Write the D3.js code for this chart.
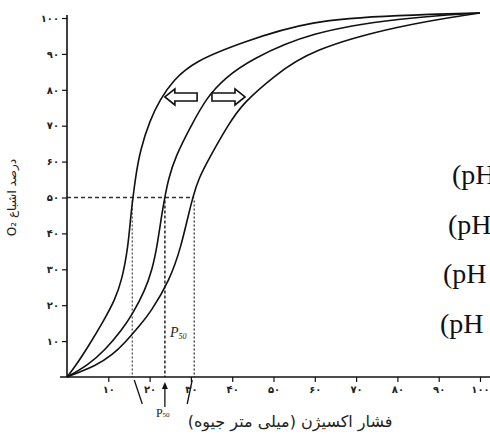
<!DOCTYPE html>
<html>
<head>
<meta charset="utf-8">
<script src="https://cdn.jsdelivr.net/npm/d3@7"></script>
<style>
  body { margin: 0; background: #fff; }
  svg { display: block; }
</style>
</head>
<body>
<div id="chart"></div>
<script>
const width = 490;
const height = 443;

// axis ticks
const po2Ticks = [10, 20, 30, 40, 50, 60, 70, 80, 90, 100];
const satTicks = [10, 20, 30, 40, 50, 60, 70, 80, 90, 100];

// three dissociation curves (PO2 mmHg -> % saturation)
const leftPO2 = [0, 1.9, 5.1, 9, 11.6, 13.3, 14.8, 15.5, 16, 16.5, 17.7, 20.1, 22.5, 25.7, 31, 41.9, 58.8, 80.6, 100];
const leftSat = [0, 2.8, 8.4, 15.9, 21.5, 27, 36.2, 45.7, 50.1, 54.9, 63.2, 71.6, 77.2, 82.7, 88, 93, 99.4, 100.8, 101.4];
const midPO2 = [0, 5.1, 9.2, 13.3, 16, 18.9, 20.6, 21.8, 23, 23.7, 24.5, 26.2, 30, 33.9, 38.3, 44.3, 58.8, 80.6, 100];
const midSat = [0, 3.3, 7.5, 13.1, 17.8, 24.2, 29.8, 36.2, 45.7, 50.1, 54.9, 61.3, 69.9, 78, 83.3, 88.3, 96.1, 100, 101.4];
const rightPO2 = [0, 7.3, 10.9, 14, 17.7, 20.1, 24.9, 27.6, 29.5, 30.5, 31.7, 34.6, 39, 42.6, 49.9, 58.8, 80.6, 100];
const rightSat = [0, 3.3, 6.1, 9.5, 14.5, 17.8, 27, 36.2, 45.7, 50.1, 54.9, 61.3, 70.2, 76.3, 83.6, 91.1, 98, 101.4];

// P50 of each curve
const p50Values = [15.8, 23.7, 30.8];
const halfSat = 50;

// shift arrows [from, to] in mmHg, at a saturation level
const arrowLeft = [23.7, 31.5];
const arrowRight = [35.1, 43.1];
const arrowSat = 78;

// pH labels at the right edge (cut off in the source)
const phLabels = ["(pH", "(pH", "(pH", "(pH"];

const xTitle = "فشار اکسیژن (میلی متر جیوه)";
const yTitle = "درصد اشباع O₂";

const fa = n => String(n).replace(/\d/g, d => "۰۱۲۳۴۵۶۷۸۹"[d]);

const x = d3.scaleLinear().domain([0, 100]).range([67, 480]);
const y = d3.scaleLinear().domain([0, 100]).range([377, 18]);

const svg = d3.select("#chart").append("svg")
  .attr("width", width)
  .attr("height", height)
  .style("background", "#fff");

// dashed guides for P50
svg.append("line")
  .attr("x1", x(0)).attr("x2", x(p50Values[2]))
  .attr("y1", y(halfSat)).attr("y2", y(halfSat))
  .attr("stroke", "#333").attr("stroke-width", 1.3)
  .attr("stroke-dasharray", "4,3");

const vDash = ["2,2", "3,2", "2,2"];
const vWidth = [1.1, 1.6, 1.3];
svg.selectAll(".vguide")
  .data(p50Values)
  .enter()
  .append("line")
  .attr("class", "vguide")
  .attr("x1", d => x(d)).attr("x2", d => x(d))
  .attr("y1", y(halfSat) + 3).attr("y2", y(0))
  .attr("stroke", "#333")
  .attr("stroke-width", (d, i) => vWidth[i])
  .attr("stroke-dasharray", (d, i) => vDash[i]);

// curves
const line = d3.line()
  .x(d => x(d[0]))
  .y(d => y(d[1]))
  .curve(d3.curveBasis);

const curves = [
  d3.zip(leftPO2, leftSat),
  d3.zip(midPO2, midSat),
  d3.zip(rightPO2, rightSat)
];
svg.selectAll(".curve")
  .data(curves)
  .enter()
  .append("path")
  .attr("class", "curve")
  .attr("d", line)
  .attr("fill", "none")
  .attr("stroke", "#111")
  .attr("stroke-width", 1.6);

// axes
svg.append("line")
  .attr("x1", x(0)).attr("x2", x(0))
  .attr("y1", y(100) - 3).attr("y2", y(0))
  .attr("stroke", "#111").attr("stroke-width", 1.6);
svg.append("line")
  .attr("x1", x(0) - 7).attr("x2", width)
  .attr("y1", y(0)).attr("y2", y(0))
  .attr("stroke", "#111").attr("stroke-width", 1.6);

const yAxis = svg.append("g")
  .attr("transform", "translate(" + x(0) + ",0)")
  .call(d3.axisLeft(y).tickValues(satTicks).tickFormat(fa).tickSize(5).tickPadding(3));
const xAxis = svg.append("g")
  .attr("transform", "translate(0," + y(0) + ")")
  .call(d3.axisBottom(x).tickValues(po2Ticks).tickFormat(fa).tickSize(5).tickPadding(4));

[yAxis, xAxis].forEach(function(g) {
  g.select(".domain").remove();
  g.selectAll(".tick line").attr("stroke", "#111").attr("stroke-width", 1.2);
  g.selectAll(".tick text")
    .attr("font-family", "DejaVu Sans")
    .attr("font-size", 10)
    .attr("font-weight", "bold")
    .attr("fill", "#222");
});

// hollow block arrows
function blockArrow(x0, x1, yc) {
  let dir = Math.sign(x1 - x0);
  let head = 10 * dir;
  let hh = 8, sh = 4;
  return "M" + x1 + "," + yc +
    " L" + (x1 - head) + "," + (yc - hh) +
    " L" + (x1 - head) + "," + (yc - sh) +
    " L" + x0 + "," + (yc - sh) +
    " L" + x0 + "," + (yc + sh) +
    " L" + (x1 - head) + "," + (yc + sh) +
    " L" + (x1 - head) + "," + (yc + hh) + " Z";
}
svg.append("path")
  .attr("d", blockArrow(x(arrowLeft[1]), x(arrowLeft[0]), y(arrowSat)))
  .attr("fill", "#fff").attr("stroke", "#111").attr("stroke-width", 1.6);
svg.append("path")
  .attr("d", blockArrow(x(arrowRight[0]), x(arrowRight[1]), y(arrowSat)))
  .attr("fill", "#fff").attr("stroke", "#111").attr("stroke-width", 1.6);

// italic P50 inside the plot
const pIn = svg.append("text")
  .attr("x", x(p50Values[1]) + 5)
  .attr("y", y(0) - 40)
  .attr("font-family", "Liberation Serif")
  .attr("font-style", "italic")
  .attr("font-size", 14)
  .attr("fill", "#222");
pIn.append("tspan").text("P");
pIn.append("tspan").attr("font-size", 8).attr("dy", 2).text("50");

// marks under the axis
svg.append("line")
  .attr("x1", x(p50Values[0]) + 2).attr("y1", y(0) + 3)
  .attr("x2", x(p50Values[0]) + 10).attr("y2", y(0) + 27)
  .attr("stroke", "#111").attr("stroke-width", 1.3);
svg.append("line")
  .attr("x1", x(p50Values[2]) - 2).attr("y1", y(0) + 3)
  .attr("x2", x(p50Values[2]) - 7).attr("y2", y(0) + 27)
  .attr("stroke", "#111").attr("stroke-width", 1.3);
svg.append("line")
  .attr("x1", x(p50Values[1])).attr("y1", y(0) + 30)
  .attr("x2", x(p50Values[1])).attr("y2", y(0) + 10)
  .attr("stroke", "#111").attr("stroke-width", 1.3);
svg.append("path")
  .attr("d", "M" + x(p50Values[1]) + "," + (y(0) + 5) +
    " l-3,7 l6,0 Z")
  .attr("fill", "#111");

const pOut = svg.append("text")
  .attr("x", x(p50Values[1]) - 9)
  .attr("y", y(0) + 40)
  .attr("font-family", "Liberation Serif")
  .attr("font-size", 12)
  .attr("fill", "#222");
pOut.append("tspan").text("P");
pOut.append("tspan").attr("font-size", 7).text("50");

// axis titles
svg.append("text")
  .attr("x", 290)
  .attr("y", y(0) + 50)
  .attr("text-anchor", "middle")
  .attr("direction", "rtl")
  .attr("font-family", "DejaVu Sans")
  .attr("font-size", 16)
  .attr("fill", "#222")
  .text(xTitle);

svg.append("text")
  .attr("transform", "translate(16," + y(50) + ") rotate(-90)")
  .attr("text-anchor", "middle")
  .attr("direction", "rtl")
  .attr("font-family", "DejaVu Sans")
  .attr("font-size", 12)
  .attr("fill", "#222")
  .text(yTitle);

// pH labels, cut by the right edge
svg.selectAll(".ph")
  .data(phLabels)
  .enter()
  .append("text")
  .attr("class", "ph")
  .attr("x", (d, i) => [452, 448, 443, 440][i])
  .attr("y", (d, i) => 184 + i * 49.5)
  .attr("font-family", "Liberation Serif")
  .attr("font-size", 28)
  .attr("fill", "#111")
  .text(d => d);
</script>
</body>
</html>
